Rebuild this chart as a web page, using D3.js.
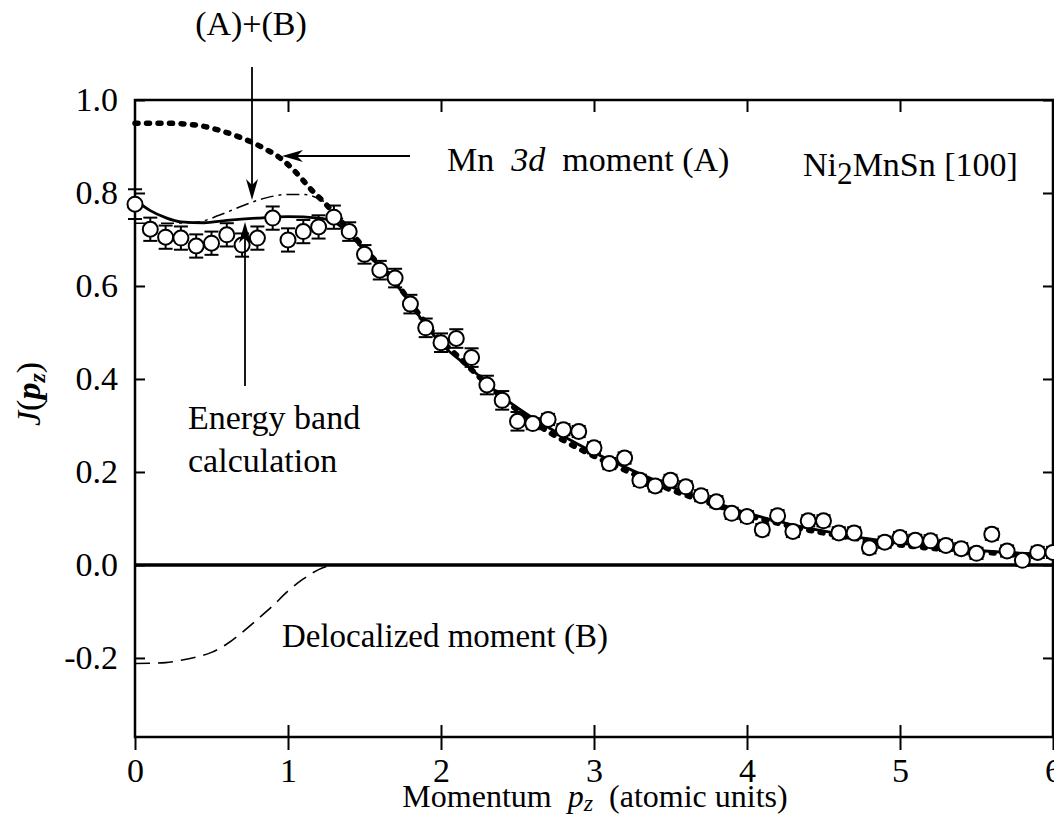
<!DOCTYPE html>
<html>
<head>
<meta charset="utf-8">
<script src="https://cdn.jsdelivr.net/npm/d3@7/dist/d3.min.js"></script>
<style>
  body { margin: 0; background: #fff; }
  text { font-family: "Liberation Serif", "Times New Roman", serif; fill: #000; }
</style>
</head>
<body>
<svg id="chart" width="1054" height="816"></svg>
<script>
// ---------- data ----------
const momentum = [0.0,0.1,0.2,0.3,0.4,0.5,0.6,0.7,0.8,0.9,1.0,1.1,1.2,1.3,1.4,1.5,1.6,1.7,1.8,1.9,
  2.0,2.1,2.2,2.3,2.4,2.5,2.6,2.7,2.8,2.9,3.0,3.1,3.2,3.3,3.4,3.5,3.6,3.7,3.8,3.9,
  4.0,4.1,4.2,4.3,4.4,4.5,4.6,4.7,4.8,4.9,5.0,5.1,5.2,5.3,5.4,5.5,5.6,5.7,5.8,5.9,6.0];
const measured = [0.776,0.722,0.705,0.703,0.686,0.692,0.710,0.688,0.703,0.746,0.699,0.717,0.727,0.748,0.717,0.668,0.634,0.617,0.561,0.510,
  0.478,0.487,0.446,0.387,0.354,0.309,0.304,0.313,0.291,0.287,0.252,0.218,0.230,0.182,0.170,0.182,0.168,0.149,0.136,0.111,
  0.104,0.076,0.106,0.072,0.095,0.095,0.069,0.069,0.037,0.049,0.059,0.053,0.052,0.042,0.035,0.025,0.066,0.030,0.010,0.027,0.027];
const errors = [0.032,0.025,0.025,0.025,0.025,0.025,0.025,0.025,0.025,0.025,0.025,0.025,0.025,0.025,0.02,0.02,0.02,0.02,0.02,0.02,
  0.02,0.02,0.02,0.02,0.02,0.02,0.012,0.012,0.012,0.012,0.012,0.012,0.012,0.012,0.012,0.012,0.012,0.012,0.012,0.012,
  0.012,0.012,0.012,0.012,0.012,0.012,0.012,0.012,0.012,0.012,0.012,0.012,0.012,0.012,0.012,0.012,0.012,0.012,0.012,0.012,0.012];

// Mn 3d moment (A) — thick dotted curve
const mnP = [0.0,0.2,0.4,0.55,0.7,0.85,0.95,1.05,1.15,1.25,1.35,1.45,1.55,1.65,1.75,1.85,1.95,2.1,2.2,2.4,2.6,2.8,3.0,3.2,3.4,3.6,3.8,4.0,4.2,4.4,4.6,4.8,5.0,5.2,5.4,5.6,5.8,5.95];
const mnJ = [0.950,0.950,0.946,0.935,0.918,0.895,0.875,0.845,0.808,0.775,0.738,0.700,0.662,0.628,0.588,0.542,0.500,0.452,0.420,0.360,0.308,0.268,0.234,0.204,0.175,0.150,0.128,0.107,0.090,0.075,0.063,0.052,0.043,0.036,0.030,0.026,0.022,0.020];

// Energy band calculation — solid curve
const bandP = [0.0,0.1,0.2,0.3,0.45,0.6,0.8,1.0,1.2,1.3,1.4,1.5,1.6,1.7,1.8,1.9,2.0,2.2,2.4,2.6,2.8,3.0,3.2,3.4,3.6,3.8,4.0,4.2,4.4,4.6,4.8,5.0,5.2,5.4,5.6,5.8,6.0];
const bandJ = [0.785,0.762,0.747,0.738,0.736,0.741,0.746,0.749,0.746,0.738,0.712,0.676,0.641,0.606,0.562,0.516,0.476,0.421,0.362,0.316,0.277,0.242,0.211,0.182,0.156,0.133,0.112,0.094,0.079,0.067,0.056,0.047,0.040,0.034,0.029,0.025,0.022];

// (A)+(B) — dash-dot curve
const sumP = [0.0,0.2,0.4,0.55,0.7,0.85,1.0,1.1,1.2,1.3,1.38];
const sumJ = [0.735,0.735,0.737,0.752,0.772,0.789,0.797,0.797,0.788,0.765,0.735];

// Delocalized moment (B) — dashed curve
const delP = [0.0,0.2,0.3,0.4,0.5,0.6,0.7,0.8,0.9,1.0,1.1,1.2,1.28];
const delJ = [-0.212,-0.210,-0.205,-0.198,-0.188,-0.170,-0.145,-0.117,-0.088,-0.056,-0.030,-0.010,0.0];

const yTicks = [-0.2,0.0,0.2,0.4,0.6,0.8,1.0];
const xTicks = [0,1,2,3,4,5,6];

// ---------- layout ----------
const svg = d3.select("#chart");
svg.append("rect").attr("width",1054).attr("height",816).attr("fill","#fff");
const x = d3.scaleLinear().domain([0,6]).range([135,1053]);
const y = d3.scaleLinear().domain([-0.37,1.0]).range([737,100]);
const FS = 34;
const yFmt = d => d3.format(".1f")(d).replace("\u2212","-");

// axes
const gL = svg.append("g").attr("transform",`translate(${x(0)},0)`)
  .call(d3.axisLeft(y).tickValues(yTicks).tickSize(-10).tickPadding(17).tickFormat(yFmt));
const gR = svg.append("g").attr("transform",`translate(${x(6)},0)`)
  .call(d3.axisRight(y).tickValues(yTicks).tickSize(-10).tickFormat(""));
const gT = svg.append("g").attr("transform",`translate(0,${y(1.0)})`)
  .call(d3.axisTop(x).tickValues([1,2,3,4,5]).tickSize(-12).tickFormat(""));
const gB = svg.append("g").attr("transform",`translate(0,${y(-0.37)})`)
  .call(d3.axisBottom(x).tickValues(xTicks).tickSize(13).tickPadding(8).tickFormat(d3.format("d")));
const gB2 = svg.append("g").attr("transform",`translate(0,${y(-0.37)})`)
  .call(d3.axisBottom(x).tickValues([1,2,3,4,5]).tickSize(-12).tickFormat(""));
[gL,gR,gT,gB,gB2].forEach(g => {
  g.select(".domain").remove();
  g.selectAll(".tick line").attr("stroke","#000").attr("stroke-width",2);
  g.selectAll(".tick text").attr("font-size",FS).attr("font-family","Liberation Serif").attr("fill","#000");
});
gB.selectAll(".tick text").attr("dy","0.71em");

// frame
svg.append("rect").attr("x",x(0)).attr("y",y(1.0)).attr("width",x(6)-x(0)).attr("height",y(-0.37)-y(1.0))
  .attr("fill","none").attr("stroke","#000").attr("stroke-width",2.5);
// zero line
svg.append("line").attr("x1",x(0)).attr("x2",x(6)).attr("y1",y(0)).attr("y2",y(0))
  .attr("stroke","#000").attr("stroke-width",3.5);

// curves
const line = d3.line().x(d=>x(d[0])).y(d=>y(d[1])).curve(d3.curveMonotoneX);
const zip = (a,b) => a.map((v,i)=>[v,b[i]]);

svg.append("path").attr("d",line(zip(delP,delJ))).attr("fill","none")
  .attr("stroke","#000").attr("stroke-width",1.6).attr("stroke-dasharray","15 8");
svg.append("path").attr("d",line(zip(sumP,sumJ))).attr("fill","none")
  .attr("stroke","#000").attr("stroke-width",1.5).attr("stroke-dasharray","13 5 3 5");
svg.append("path").attr("d",line(zip(bandP,bandJ))).attr("fill","none")
  .attr("stroke","#000").attr("stroke-width",2.8);
svg.append("path").attr("d",line(zip(mnP,mnJ))).attr("fill","none")
  .attr("stroke","#000").attr("stroke-width",5.5).attr("stroke-linecap","round").attr("stroke-dasharray","3 8.5");

// error bars + points
const pts = momentum.map((p,i)=>({p, j:measured[i], e:errors[i]}));
const eb = svg.append("g").attr("stroke","#000").attr("stroke-width",2);
pts.forEach(d => {
  const cx = x(d.p), y1 = y(d.j + d.e), y2 = y(d.j - d.e);
  eb.append("line").attr("x1",cx).attr("x2",cx).attr("y1",y1).attr("y2",y2);
  eb.append("line").attr("x1",cx-7).attr("x2",cx+7).attr("y1",y1).attr("y2",y1);
  eb.append("line").attr("x1",cx-7).attr("x2",cx+7).attr("y1",y2).attr("y2",y2);
});
svg.append("g").selectAll("circle").data(pts).join("circle")
  .attr("cx",d=>x(d.p)).attr("cy",d=>y(d.j)).attr("r",7.5)
  .attr("fill","#fff").attr("stroke","#000").attr("stroke-width",2);

// arrows
function arrowHead(tx, ty, angleDeg) {
  svg.append("path").attr("d","M0,0 L-6,-21 L0,-15 L6,-21 Z")
    .attr("transform",`translate(${tx},${ty}) rotate(${angleDeg})`).attr("fill","#000");
}
svg.append("line").attr("x1",252).attr("x2",252).attr("y1",67).attr("y2",190).attr("stroke","#000").attr("stroke-width",1.8);
arrowHead(252, 200, 0);
svg.append("line").attr("x1",292).attr("x2",410).attr("y1",156).attr("y2",156).attr("stroke","#000").attr("stroke-width",1.8);
arrowHead(282, 156, 90);
svg.append("line").attr("x1",245).attr("x2",245).attr("y1",232).attr("y2",386).attr("stroke","#000").attr("stroke-width",1.8);
arrowHead(245, 222, 180);

// texts
svg.append("text").attr("x",251).attr("y",35).attr("text-anchor","middle").attr("font-size",FS).text("(A)+(B)");
const mn = svg.append("text").attr("x",447).attr("y",171).attr("font-size",FS).attr("xml:space","preserve");
mn.append("tspan").text("Mn  ");
mn.append("tspan").attr("font-style","italic").text("3d");
mn.append("tspan").text("  moment (A)");
const ni = svg.append("text").attr("x",803).attr("y",176).attr("font-size",FS);
ni.append("tspan").text("Ni");
ni.append("tspan").attr("dy",8).attr("font-size",FS*0.92).text("2");
ni.append("tspan").attr("dy",-8).text("MnSn [100]");
svg.append("text").attr("x",188).attr("y",429).attr("font-size",FS).text("Energy band");
svg.append("text").attr("x",188).attr("y",472).attr("font-size",FS).text("calculation");
svg.append("text").attr("x",282).attr("y",647).attr("font-size",FS*0.97).text("Delocalized moment (B)");

// x label
const XFS = 32;
const xl = svg.append("text").attr("x",595).attr("y",807).attr("text-anchor","middle").attr("font-size",XFS).attr("xml:space","preserve");
xl.append("tspan").text("Momentum  ");
xl.append("tspan").attr("font-style","italic").text("p");
xl.append("tspan").attr("font-style","italic").attr("font-size",XFS*0.75).attr("dy",4).text("z");
xl.append("tspan").attr("dy",-4).text("  (atomic units)");

// y label
const yl = svg.append("text").attr("transform","translate(40,394) rotate(-90)").attr("text-anchor","middle").attr("font-size",FS);
yl.append("tspan").attr("font-style","italic").text("J");
yl.append("tspan").text("(");
yl.append("tspan").attr("font-style","italic").attr("font-weight","bold").text("p");
yl.append("tspan").attr("font-style","italic").attr("font-weight","bold").attr("font-size",FS*0.7).attr("dy",5).text("z");
yl.append("tspan").attr("dy",-5).text(")");
</script>
</body>
</html>
